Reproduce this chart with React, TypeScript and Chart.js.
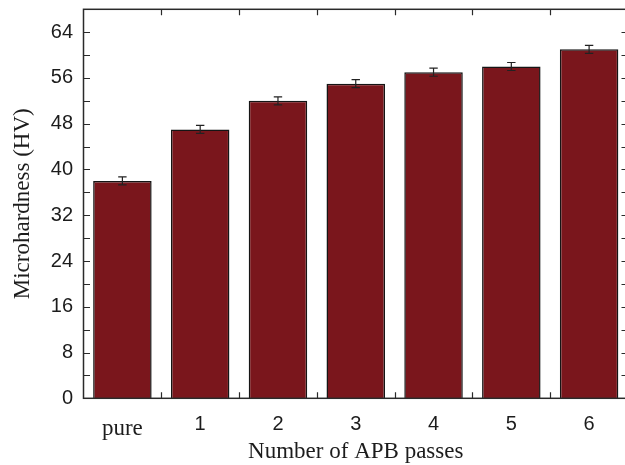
import { useEffect, useRef } from 'react';
import { Chart, registerables } from 'chart.js';

Chart.register(...registerables);

const categories = ['pure', '1', '2', '3', '4', '5', '6'];
const hardness = [38, 47, 52, 55, 57, 58, 61];
const hardnessError = [0.7, 0.7, 0.7, 0.7, 0.7, 0.7, 0.7];
const yMin = 0;
const yMax = 68;
const yStep = 4;
const yLabelStep = 8;

const INK = '#1c1c1c';

const framePlugin = {
  id: 'frameAndErrors',
  afterDatasetsDraw(chart: any) {
    const ctx = chart.ctx;
    const y = chart.scales.y;
    const meta = chart.getDatasetMeta(0);
    ctx.save();
    ctx.strokeStyle = '#222';
    ctx.lineWidth = 1.2;
    meta.data.forEach((bar: any, i: number) => {
      const v = hardness[i];
      const e = hardnessError[i];
      const px = bar.x;
      const t = y.getPixelForValue(v + e);
      const b = y.getPixelForValue(v - e);
      ctx.beginPath();
      ctx.moveTo(px, t);
      ctx.lineTo(px, b);
      ctx.moveTo(px - 4.2, t);
      ctx.lineTo(px + 4.2, t);
      ctx.moveTo(px - 4.2, b);
      ctx.lineTo(px + 4.2, b);
      ctx.stroke();
    });
    ctx.restore();
  },
  afterDraw(chart: any) {
    const ctx = chart.ctx;
    const { left, right, top, bottom } = chart.chartArea;
    const x = chart.scales.x;
    const y = chart.scales.y;
    ctx.save();
    ctx.strokeStyle = '#2a2a2a';
    ctx.lineWidth = 1.2;
    y.ticks.forEach((t: any) => {
      if (t.value <= yMin || t.value >= yMax) return;
      const py = Math.round(y.getPixelForValue(t.value)) + 0.5;
      ctx.beginPath();
      ctx.moveTo(left, py);
      ctx.lineTo(left + 6.5, py);
      ctx.moveTo(right, py);
      ctx.lineTo(right - 6.5, py);
      ctx.stroke();
    });
    for (let i = 1; i < categories.length; i++) {
      const px = Math.round((x.getPixelForValue(i - 1) + x.getPixelForValue(i)) / 2) + 0.5;
      ctx.beginPath();
      ctx.moveTo(px, bottom);
      ctx.lineTo(px, bottom - 6);
      ctx.moveTo(px, top);
      ctx.lineTo(px, top + 6);
      ctx.stroke();
    }
    ctx.lineWidth = 1.5;
    ctx.strokeRect(left, top, right - left, bottom - top);
    ctx.restore();
  },
};

export default function App() {
  const ref = useRef<HTMLCanvasElement | null>(null);

  useEffect(() => {
    if (!ref.current) return;
    const chart = new Chart(ref.current, {
      type: 'bar',
      data: {
        labels: categories,
        datasets: [
          {
            label: 'Microhardness',
            data: hardness,
            backgroundColor: '#7a161c',
            borderColor: '#151515',
            borderWidth: 1.5,
            barPercentage: 0.752,
            categoryPercentage: 1,
          },
        ],
      },
      options: {
        animation: false,
        responsive: false,
        devicePixelRatio: 1,
        layout: { padding: { top: 9.3, right: 2, left: 0, bottom: 0 } },
        plugins: {
          legend: { display: false },
          tooltip: { enabled: false },
        },
        scales: {
          x: {
            grid: { display: false, drawTicks: false },
            border: { display: false },
            afterFit: (s: any) => {
              s.height = 66.7;
              s.paddingLeft = 0;
              s.paddingRight = 0;
            },
            ticks: {
              padding: 15,
              color: INK,
              font: (c: any) =>
                c.index === 0
                  ? { family: '"Liberation Serif", "Times New Roman", serif', size: 23, lineHeight: 1.4 }
                  : { family: '"Liberation Sans", Arial, sans-serif', size: 20, lineHeight: 1.077 },
            },
            title: {
              display: true,
              text: 'Number of APB passes',
              color: INK,
              font: { family: '"Liberation Serif", "Times New Roman", serif', size: 23, lineHeight: 1.05 },
              padding: { top: 0, bottom: 0.5 },
            },
          },
          y: {
            min: yMin,
            max: yMax,
            grid: { display: false, drawTicks: false },
            border: { display: false },
            afterFit: (s: any) => {
              s.width = 83.5;
              s.paddingTop = 0;
              s.paddingBottom = 0;
            },
            ticks: {
              stepSize: yStep,
              autoSkip: false,
              padding: 10.5,
              color: INK,
              font: { family: '"Liberation Sans", Arial, sans-serif', size: 20 },
              callback: (v: any) => (Number(v) % yLabelStep === 0 ? String(v) : ''),
            },
            title: {
              display: true,
              text: 'Microhardness (HV)',
              color: INK,
              font: { family: '"Liberation Serif", "Times New Roman", serif', size: 23, lineHeight: 1.2 },
              padding: { top: 9, bottom: 0 },
            },
          },
        },
      },
      plugins: [framePlugin],
    });
    return () => chart.destroy();
  }, []);

  return (
    <div
      style={{
        position: 'fixed',
        left: 0,
        top: 0,
        width: 625,
        height: 465,
        overflow: 'hidden',
        background: '#fff',
      }}
    >
      <canvas ref={ref} width={630} height={465} style={{ display: 'block', width: 630, height: 465 }} />
    </div>
  );
}
